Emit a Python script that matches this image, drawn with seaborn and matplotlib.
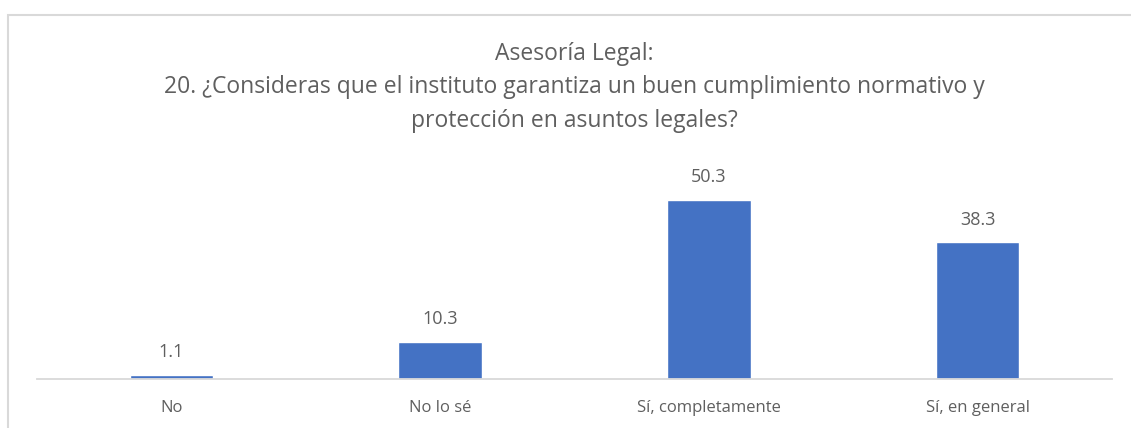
import matplotlib
matplotlib.use("Agg")
import matplotlib.pyplot as plt
import seaborn as sns
import pandas as pd
from matplotlib.patches import Rectangle

categorias = ["No", "No lo sé", "Sí, completamente", "Sí, en general"]
porcentajes = [1.1, 10.3, 50.3, 38.3]
titulo = ("Asesoría Legal:\n20. ¿Consideras que el instituto garantiza un buen cumplimiento normativo y\n"
          "protección en asuntos legales?")

df = pd.DataFrame({"categoria": categorias, "valor": porcentajes})

sns.set_theme(style="white")
plt.rcParams["font.family"] = ["Open Sans", "DejaVu Sans"]

gris = "#5f5f5f"
fig = plt.figure(figsize=(11.31, 4.28), dpi=100)
# marco del grafico
fig.patches.append(Rectangle((8 / 1131, -0.1), 1.2, 1 - 15 / 428 + 0.1, transform=fig.transFigure,
                             fill=False, edgecolor="#D9D9D9", linewidth=1.5))
ax = fig.add_axes([37 / 1131, 1 - 379 / 428, 1075 / 1131, 0.5])
sns.barplot(data=df, x="categoria", y="valor", color="#4472C4", width=0.31, saturation=1, ax=ax)
ax.set_ylim(0, 60)
for s in ["top", "right", "left"]:
    ax.spines[s].set_visible(False)
ax.spines["bottom"].set_color("#D9D9D9")
ax.spines["bottom"].set_linewidth(1.3)
ax.set_yticks([])
ax.set_xlabel("")
ax.set_ylabel("")
ax.tick_params(axis="x", length=0, labelsize=12, colors=gris, pad=15)
ax.bar_label(ax.containers[0], fmt="%.1f", padding=10, fontsize=13, color=gris)

fig.text(574 / 1131, 1 - 42 / 428, titulo, ha="center", va="top", fontsize=16.5, color=gris, linespacing=1.52)

fig.savefig("out.png", dpi=100)
